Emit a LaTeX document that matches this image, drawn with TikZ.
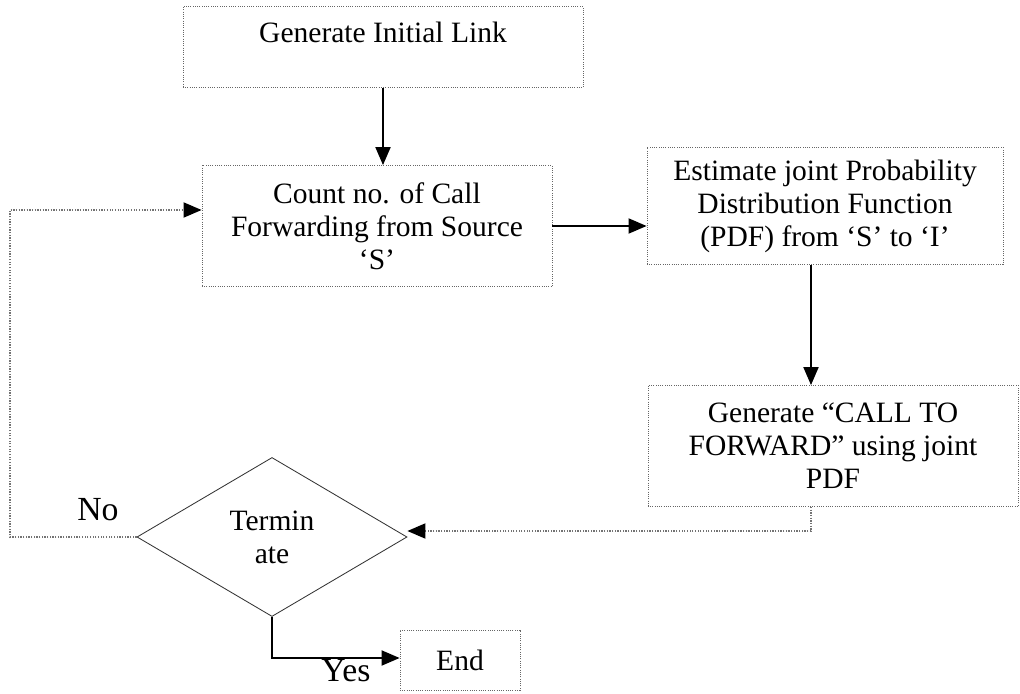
\documentclass[tikz,border=0pt]{standalone}
\usepackage{fontspec}
\setmainfont{Liberation Serif}
\usetikzlibrary{shapes.geometric,arrows.meta,positioning}
\tikzset{
    box/.style={rectangle, draw=black!60, densely dotted, line width=0.6pt,
                align=center, inner sep=2pt, font=\fontsize{21}{23.5}\selectfont},
    decision/.style={diamond, draw=black!80, line width=0.6pt, inner sep=0pt,
                     align=center, font=\fontsize{21}{23.5}\selectfont},
    line/.style={draw, line width=0.9pt, -{Triangle[length=0.45cm,width=0.38cm]}},
    loop/.style={draw=black!55, densely dotted, line width=0.9pt,
                 -{Triangle[length=0.45cm,width=0.38cm,color=black,fill=black]}},
    tag/.style={font=\fontsize{24}{28}\selectfont},
}
\begin{document}
\begin{tikzpicture}[x=0.025cm, y=-0.025cm]
    \useasboundingbox (0,0) rectangle (1020,694);

    % Main chain
    \node [box, minimum width=10cm, minimum height=2.025cm] (init) at (383,47)
          {\raisebox{0.12cm}[0pt][0pt]{Generate Initial Link}};
    \node [box, minimum width=8.75cm, minimum height=3.025cm] (count) at (377,226)
          {Count no. of Call\\Forwarding from Source\\`S'};
    \node [box, minimum width=8.9cm, minimum height=2.925cm] (pdf) at (825,206)
          {Estimate joint Probability\\Distribution Function\\(PDF) from `S' to `I'};
    \node [box, minimum width=9.25cm, minimum height=3.025cm] (gen) at (833,446)
          {Generate ``CALL TO\\FORWARD'' using joint\\PDF};

    % Decision and end
    \node [decision, minimum width=6.75cm, minimum height=3.975cm] (term) at (272,537)
          {Termin\\ate};
    \node [box, minimum width=3cm, minimum height=1.5cm] (stop) at (460,660) {End};

    % Helper points
    \coordinate (gdown)  at (811,531);
    \coordinate (nocorn) at (10,537);
    \coordinate (noup)   at (10,210);
    \coordinate (ydown)  at (272,658);

    % Arrows
    \path [line] (init.south) -- (init.south |- count.north);
    \path [line] (count.east) -- (count.east -| pdf.west);
    \path [line] (pdf.south -| 811,0) -- (gen.north -| 811,0);
    \path [line] (term.south) -- (ydown) -- (stop.west |- ydown);

    % Feedback
    \path [loop] (gen.south -| gdown) -- (gdown) -- (gdown -| term.east);
    \path [loop] (term.west) -- (nocorn) -- (noup) -- (noup -| count.west);

    % Labels
    \node [tag] (nolab)  at (98,510)  {No};
    \node [tag] (yeslab) at (346,671) {Yes};
\end{tikzpicture}
\end{document}
